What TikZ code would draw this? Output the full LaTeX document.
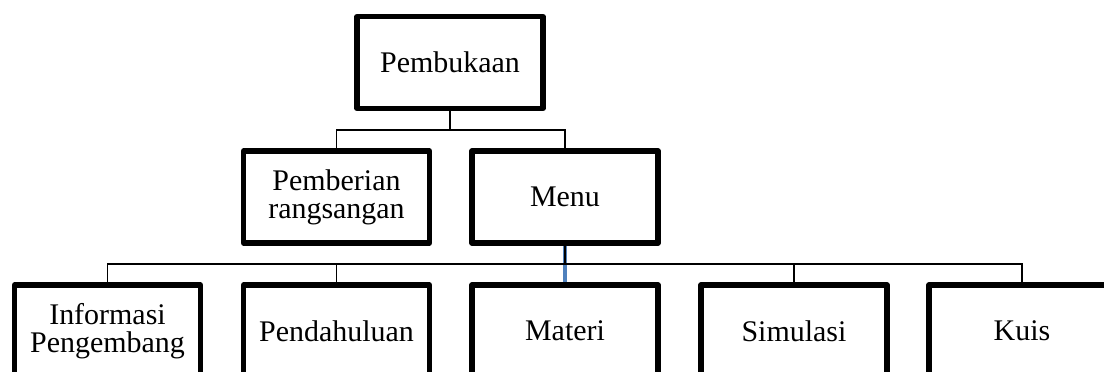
\documentclass[tikz,border=0pt]{standalone}
\usepackage{fontspec}
\setmainfont{Liberation Serif}
\usepackage{tikz}
\usetikzlibrary{calc}
\definecolor{linkblue}{RGB}{79,129,189}
\tikzset{
	menubox/.style={draw=black, line width=0.13cm, line join=round, fill=white,
		minimum width=4.65cm, minimum height=2.3cm, inner sep=0pt, align=center,
		font=\fontsize{21.3}{20}\selectfont},
	tieline/.style={line width=0.04cm, color=black},
	bluelink/.style={line width=0.09cm, color=linkblue}
}

\begin{document}
\begin{tikzpicture}[x=0.025cm, y=-0.025cm]
		%%%%% START %%%%%
		
		\clip (0, 0) rectangle (1104, 371);
		\fill[white] (0, 0) rectangle (1104, 371);
		
		\coordinate (busA) at (450, 130);
		\coordinate (busB) at (565, 264);
		
		\node[menubox] (pembukaan) at (450, 62.5) {Pembukaan};
		
		\node[menubox] (pemberian) at (336.5, 197) {Pemberian\\rangsangan};
		\node[menubox] (menu) at (565, 197) {Menu};
		
		\node[menubox] (informasi) at (107.5, 331) {Informasi\\Pengembang};
		\node[menubox] (pendahuluan) at (336.5, 331) {Pendahuluan};
		\node[menubox] (materi) at (565, 331) {Materi};
		\node[menubox] (simulasi) at (794, 331) {Simulasi};
		\node[menubox] (kuis) at (1022, 331) {Kuis};
		
		\draw[tieline] (pembukaan) -- (busA);
		\draw[tieline] (pemberian.north) |- (busA) -| (menu.north);
		
		\draw[bluelink] (menu.south) -- (materi.north);
		\draw[tieline] (menu.south) -- (busB);
		\draw[tieline] (informasi.north) |- (busB) -| (kuis.north);
		\draw[tieline] (pendahuluan.north) -- (pendahuluan.north |- busB);
		\draw[tieline] (simulasi.north) -- (simulasi.north |- busB);
		
		%%%%% END %%%%%
	\end{tikzpicture}
\end{document}
